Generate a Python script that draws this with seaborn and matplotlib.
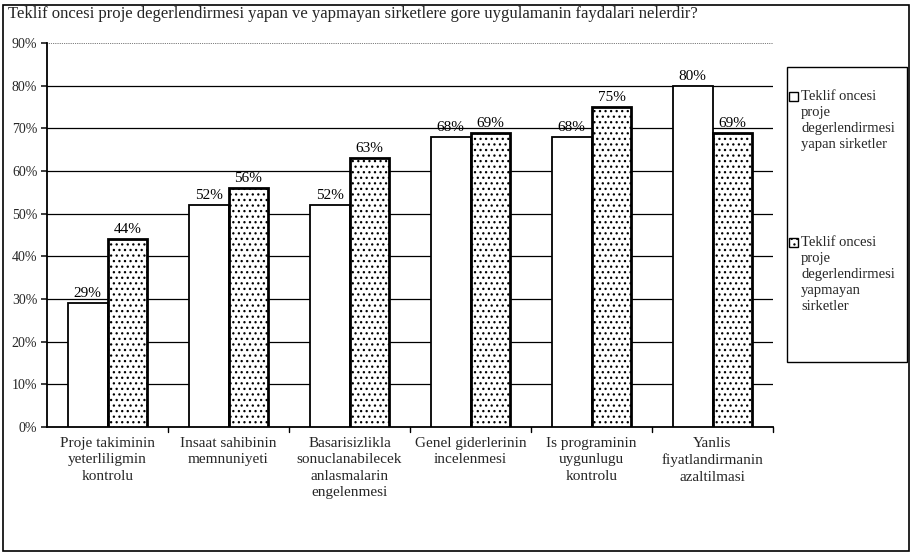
import matplotlib
matplotlib.use("Agg")
import matplotlib.pyplot as plt
from matplotlib.patches import Rectangle
import seaborn as sns
import pandas as pd

categories = [
    "Proje takiminin\nyeterliligmin\nkontrolu",
    "Insaat sahibinin\nmemnuniyeti",
    "Basarisizlikla\nsonuclanabilecek\nanlasmalarin\nengelenmesi",
    "Genel giderlerinin\nincelenmesi",
    "Is programinin\nuygunlugu\nkontrolu",
    "Yanlis\nfiyatlandirmanin\nazaltilmasi",
]
yapan = [29, 52, 52, 68, 68, 80]
yapmayan = [44, 56, 63, 69, 75, 69]
series_names = [
    "Teklif oncesi\nproje\ndegerlendirmesi\nyapan sirketler",
    "Teklif oncesi\nproje\ndegerlendirmesi\nyapmayan\nsirketler",
]
series_hatch = ["", "..."]
series_edge = [1.3, 2.0]
yticks = [0, 10, 20, 30, 40, 50, 60, 70, 80, 90]
title = "Teklif oncesi proje degerlendirmesi yapan ve yapmayan sirketlere gore uygulamanin faydalari nelerdir?"

df = pd.DataFrame({
    "kategori": categories * 2,
    "seri": [series_names[0]] * len(categories) + [series_names[1]] * len(categories),
    "deger": yapan + yapmayan,
})

sns.set_theme(style="white")
plt.rcParams["font.family"] = ["Liberation Serif", "DejaVu Serif"]
plt.rcParams["hatch.linewidth"] = 0.9

W, H = 914, 554
fig = plt.figure(figsize=(W / 100, H / 100), dpi=100)
ax = fig.add_axes([47 / W, 1 - 427 / H, 726 / W, 384 / H])

sns.barplot(data=df, x="kategori", y="deger", hue="seri", order=categories,
            hue_order=series_names, palette=["white", "white"],
            edgecolor="black", linewidth=1.3, width=0.66, ax=ax,
            legend=False, zorder=3)

n = len(categories)
for container, hatch, lw in zip(ax.containers, series_hatch, series_edge):
    for bar in container:
        bar.set_hatch(hatch)
        bar.set_linewidth(lw)

# value labels above each bar
for container, vals in zip(ax.containers, [yapan, yapmayan]):
    ax.bar_label(container, labels=[f"{v}%" for v in vals], padding=2,
                 fontsize=11, color="black")

ax.set_ylim(0, 90)
ax.set_yticks(yticks)
ax.set_yticklabels([f"{v}%" for v in yticks], fontsize=10)
ax.set_xlim(-0.5, n - 0.5)
ax.set_xticks(range(n))
ax.set_xticklabels(categories, fontsize=11, linespacing=1.35)
ax.set_xlabel("")
ax.set_ylabel("")
ax.tick_params(axis="x", length=0, pad=7)
ax.tick_params(axis="y", length=4, direction="out", left=True, pad=3)

# separators between categories on the baseline
for k in range(1, n + 1):
    ax.plot([k - 0.5, k - 0.5], [0, -1.2], color="black", lw=1,
            clip_on=False, zorder=4)

for v in yticks[1:]:
    ax.axhline(v, color="black", lw=0.9 if v < 90 else 0.5,
               ls="-" if v < 90 else ":", zorder=1)

for side in ["top", "right"]:
    ax.spines[side].set_visible(False)
for side in ["left", "bottom"]:
    ax.spines[side].set_color("black")
    ax.spines[side].set_linewidth(1.3)

fig.text(8 / W, 1 - 14 / H, title, fontsize=12, ha="left", va="center")

# legend box on the right, one swatch beside the first line of each label
fig.patches.append(Rectangle((787 / W, 1 - 362 / H), 120 / W, 295 / H,
                             transform=fig.transFigure, fill=False,
                             edgecolor="black", lw=1))
for name, hatch, y_top in zip(series_names, series_hatch, [90, 236]):
    fig.patches.append(Rectangle((789 / W, 1 - (y_top + 11) / H), 9 / W, 9 / H,
                                 transform=fig.transFigure, facecolor="white",
                                 edgecolor="black", lw=1, hatch=hatch))
    fig.text(801 / W, 1 - y_top / H, name, fontsize=10.5, ha="left",
             va="top", linespacing=1.3)

# outer frame
fig.patches.append(Rectangle((3 / W, 3 / H), 906 / W, 546 / H,
                             transform=fig.transFigure, fill=False,
                             edgecolor="black", lw=1.2))

fig.savefig("out.png", dpi=100)
